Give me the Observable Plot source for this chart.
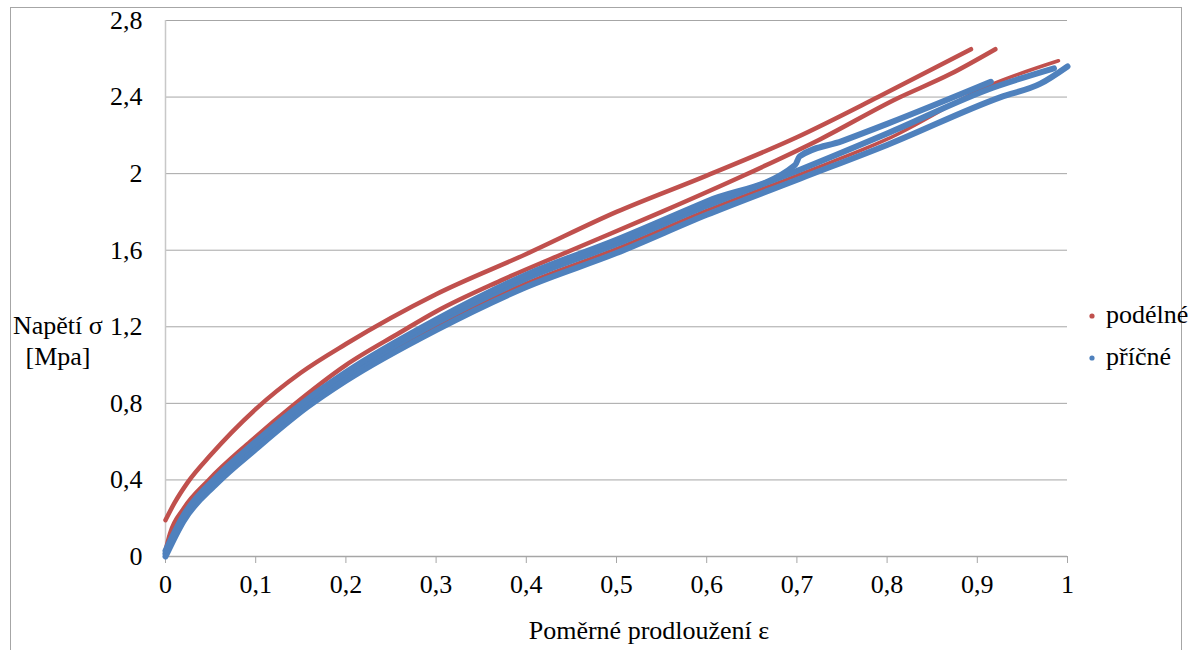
<!DOCTYPE html>
<html>
<head>
<meta charset="utf-8">
<script src="https://cdn.jsdelivr.net/npm/d3@7"></script>
<script src="https://cdn.jsdelivr.net/npm/@observablehq/plot@0.6"></script>
<style>
  html, body { margin: 0; padding: 0; background: #fff; }
  #chart { width: 1191px; height: 650px; overflow: hidden; }
</style>
</head>
<body>
<div id="chart"></div>
<script>
// ---- tick values and labels ----
const xTicks = [0, 0.1, 0.2, 0.3, 0.4, 0.5, 0.6, 0.7, 0.8, 0.9, 1];
const xTickLabels = ["0", "0,1", "0,2", "0,3", "0,4", "0,5", "0,6", "0,7", "0,8", "0,9", "1"];
const yTicks = [0, 0.4, 0.8, 1.2, 1.6, 2, 2.4, 2.8];
const yTickLabels = ["0", "0,4", "0,8", "1,2", "1,6", "2", "2,4", "2,8"];

const seriesNames = ["podélné", "příčné"];

// ---- podélné (red) specimens ----
const redA_x = [0, 0.01, 0.025, 0.05, 0.1, 0.15, 0.2, 0.3, 0.4, 0.5, 0.6, 0.7, 0.79, 0.893];
const redA_y = [0.19, 0.28, 0.39, 0.53, 0.77, 0.96, 1.11, 1.37, 1.58, 1.80, 1.99, 2.19, 2.40, 2.65];

const redB_x = [0, 0.005, 0.02, 0.048, 0.094, 0.139, 0.2, 0.26, 0.3, 0.371, 0.45, 0.55, 0.641, 0.726, 0.81, 0.87, 0.92];
const redB_y = [0.03, 0.12, 0.25, 0.40, 0.60, 0.78, 1.00, 1.17, 1.28, 1.44, 1.60, 1.80, 1.99, 2.18, 2.39, 2.52, 2.65];

const redC_x = [0, 0.02, 0.057, 0.1, 0.157, 0.2, 0.3, 0.4, 0.5, 0.6, 0.704, 0.8, 0.918, 0.99];
const redC_y = [0.005, 0.195, 0.395, 0.575, 0.795, 0.935, 1.20, 1.428, 1.608, 1.808, 1.998, 2.18, 2.47, 2.59];

// ---- příčné (blue) specimens ----
const blueA_x = [0, 0.02, 0.057, 0.1, 0.157, 0.2, 0.3, 0.4, 0.5, 0.6, 0.704, 0.8, 0.926, 0.97, 1.0];
const blueA_y = [0, 0.185, 0.382, 0.56, 0.78, 0.918, 1.183, 1.408, 1.585, 1.785, 1.975, 2.15, 2.40, 2.47, 2.56];

const blueC_x = [0, 0.02, 0.057, 0.1, 0.157, 0.2, 0.3, 0.4, 0.5, 0.6, 0.704, 0.8, 0.918, 0.985];
const blueC_y = [0.015, 0.205, 0.405, 0.585, 0.805, 0.945, 1.22, 1.452, 1.632, 1.832, 2.022, 2.21, 2.45, 2.55];

const blueB_x = [0, 0.02, 0.057, 0.1, 0.157, 0.2, 0.3, 0.4, 0.5, 0.6, 0.698, 0.703, 0.75, 0.8, 0.915];
const blueB_y = [0.03, 0.215, 0.418, 0.60, 0.82, 0.962, 1.237, 1.472, 1.655, 1.855, 2.045, 2.09, 2.17, 2.26, 2.48];

const RED = "#C0504D";
const BLUE = "#4F81BD";

// pick an installed serif face
function pickFont() {
  const ctx = document.createElement("canvas").getContext("2d");
  const sample = "Poměrné prodloužení 0,123 Mmwi";
  const w = f => { ctx.font = "40px " + f; return ctx.measureText(sample).width; };
  const mono = w("monospace");
  const cands = ["Liberation Serif", "Times New Roman", "Tinos", "Noto Serif", "DejaVu Serif", "FreeSerif", "Nimbus Roman", "Times"];
  for (const c of cands) {
    const a = w(`"${c}", monospace`), b = w(`"${c}", sans-serif`);
    if (a === b && a !== mono) return `"${c}", serif`;
  }
  return "serif";
}
const FONT = pickFont();
const FS = 26;

function rows(xs, ys, id) { return xs.map((x, i) => ({x, y: ys[i], id})); }
const redA = rows(redA_x, redA_y, "A");
const redB = rows(redB_x, redB_y, "B");
const redC = rows(redC_x, redC_y, "C");
const blueA = rows(blueA_x, blueA_y, "A");
const blueB = rows(blueB_x, blueB_y, "B");
const blueC = rows(blueC_x, blueC_y, "C");

const xLab = new Map(xTicks.map((t, i) => [t, xTickLabels[i]]));
const yLab = new Map(yTicks.map((t, i) => [t, yTickLabels[i]]));

const lineOpts = (c, w) => ({x: "x", y: "y", stroke: c, strokeWidth: w, curve: "monotone-x", strokeLinecap: "round", strokeLinejoin: "round"});

const plot = Plot.plot({
  width: 1191,
  height: 650,
  marginLeft: 165,
  marginRight: 124,
  marginTop: 20,
  marginBottom: 94,
  style: {fontFamily: FONT, fontSize: FS + "px", color: "#000", background: "transparent", overflow: "visible"},
  x: {domain: [0, 1]},
  y: {domain: [0, 2.8]},
  marks: [
    Plot.gridY(yTicks.slice(1), {stroke: "#a6a6a6", strokeOpacity: 1, strokeWidth: 1}),
    Plot.ruleX([0], {stroke: "#c8c8c8", strokeWidth: 1.5}),
    Plot.ruleY([0], {stroke: "#a6a6a6", strokeWidth: 1.5}),
    Plot.axisX(xTicks, {tickSize: 7, tickPadding: 11, stroke: "#a6a6a6", tickFormat: d => xLab.get(d), label: null, fill: "#000"}),
    Plot.axisY(yTicks, {tickSize: 0, tickPadding: 23, tickFormat: d => yLab.get(d), label: null, fill: "#000"}),
    Plot.line(redA, lineOpts(RED, 4.5)),
    Plot.line(redB, lineOpts(RED, 4.5)),
    Plot.line(redC, lineOpts(RED, 3.5)),
    Plot.line(blueA, lineOpts(BLUE, 6)),
    Plot.line(blueC, lineOpts(BLUE, 6)),
    Plot.line(blueB, lineOpts(BLUE, 6))
  ]
});

document.getElementById("chart").appendChild(plot);

const svg = d3.select(plot);
svg.selectAll("text").style("font-family", FONT);

// outer chart border
svg.insert("rect", ":first-child")
  .attr("x", 10.5).attr("y", 7.5).attr("width", 1171).attr("height", 700)
  .attr("fill", "#fff").attr("stroke", "#a6a6a6").attr("stroke-width", 1);

function addText(x, y, anchor, str) {
  return svg.append("text").attr("x", x).attr("y", y).attr("text-anchor", anchor)
    .attr("font-size", FS).attr("fill", "#000").style("font-family", FONT).text(str);
}

// y axis title
addText(13, 334, "start", "Napětí σ");
addText(58, 365, "middle", "[Mpa]");

// x axis title
addText(649, 639, "middle", "Poměrné prodloužení ε");

// legend
const legendItems = [{name: seriesNames[0], color: RED, y: 316}, {name: seriesNames[1], color: BLUE, y: 358}];
legendItems.forEach(it => {
  svg.append("circle").attr("cx", 1092).attr("cy", it.y).attr("r", 2.6).attr("fill", it.color);
  addText(1106, it.y + 7, "start", it.name);
});
</script>
</body>
</html>
